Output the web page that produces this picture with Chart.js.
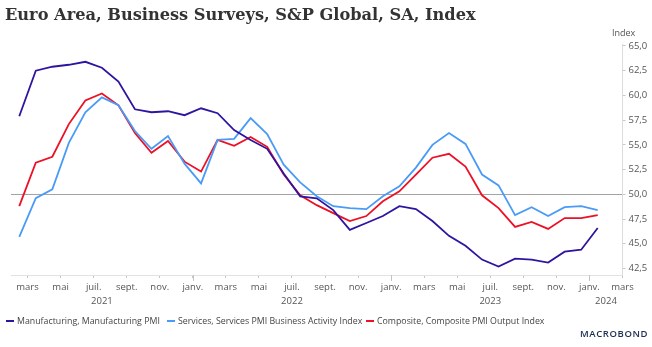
<!DOCTYPE html>
<html>
<head>
<meta charset="utf-8">
<title>Euro Area PMI</title>
<script src="https://cdn.jsdelivr.net/npm/chart.js@4.4.1/dist/chart.umd.min.js"></script>
<style>
  html, body { margin: 0; padding: 0; background: #fff; }
  #wrap { position: relative; width: 652px; height: 347px; overflow: hidden; font-family: "Open Sans", sans-serif; }
  #title { position: absolute; left: 5px; top: 5px; font-family: "DejaVu Serif", serif; font-weight: bold; font-size: 16.2px; color: #333; white-space: nowrap; }
  #chart { position: absolute; left: 0; top: 0; }
  #unit { position: absolute; left: 612px; top: 26px; font-size: 9px; color: #555; }
  .item { position: absolute; top: 315px; display: flex; align-items: center; font-size: 8.8px; color: #444; white-space: nowrap; }
  .swatch { width: 8px; height: 2px; margin-right: 3px; }
  #logo { position: absolute; left: 580px; top: 327px; font-size: 9.5px; font-weight: 600; letter-spacing: 0.6px; color: #1b2d50; }
</style>
</head>
<body>
<div id="wrap">
  <canvas id="chart" width="652" height="347"></canvas>
  <div id="title">Euro Area, Business Surveys, S&amp;P Global, SA, Index</div>
  <div id="unit">Index</div>
  <div id="legend"></div>
  <div id="logo">MACROBOND</div>
</div>
<script>
// Monthly survey readings, Feb 2021 - Jan 2024
const months = [
  '2021-02','2021-03','2021-04','2021-05','2021-06','2021-07','2021-08','2021-09','2021-10','2021-11','2021-12',
  '2022-01','2022-02','2022-03','2022-04','2022-05','2022-06','2022-07','2022-08','2022-09','2022-10','2022-11','2022-12',
  '2023-01','2023-02','2023-03','2023-04','2023-05','2023-06','2023-07','2023-08','2023-09','2023-10','2023-11','2023-12',
  '2024-01'
];
const manufacturing = [
  57.9, 62.5, 62.9, 63.1, 63.4, 62.8, 61.4, 58.6, 58.3, 58.4, 58.0,
  58.7, 58.2, 56.5, 55.5, 54.6, 52.1, 49.8, 49.6, 48.4, 46.4, 47.1, 47.8,
  48.8, 48.5, 47.3, 45.8, 44.8, 43.4, 42.7, 43.5, 43.4, 43.1, 44.2, 44.4,
  46.6
];
const services = [
  45.7, 49.6, 50.5, 55.2, 58.3, 59.8, 59.0, 56.4, 54.6, 55.9, 53.1,
  51.1, 55.5, 55.6, 57.7, 56.1, 53.0, 51.2, 49.8, 48.8, 48.6, 48.5, 49.8,
  50.8, 52.7, 55.0, 56.2, 55.1, 52.0, 50.9, 47.9, 48.7, 47.8, 48.7, 48.8,
  48.4
];
const composite = [
  48.8, 53.2, 53.8, 57.1, 59.5, 60.2, 59.0, 56.2, 54.2, 55.4, 53.3,
  52.3, 55.5, 54.9, 55.8, 54.8, 52.0, 49.9, 48.9, 48.1, 47.3, 47.8, 49.3,
  50.3, 52.0, 53.7, 54.1, 52.8, 49.9, 48.6, 46.7, 47.2, 46.5, 47.6, 47.6,
  47.9
];
const seriesNames = [
  'Manufacturing, Manufacturing PMI',
  'Services, Services PMI Business Activity Index',
  'Composite, Composite PMI Output Index'
];
const seriesColors = ['#2f14a0', '#4a9bf7', '#ec1125'];
const yTicks = [42.5, 45, 47.5, 50, 52.5, 55, 57.5, 60, 62.5, 65];
const monthNames = ['janv.', 'févr.', 'mars', 'avr.', 'mai', 'juin', 'juil.', 'août', 'sept.', 'oct.', 'nov.', 'déc.'];
const years = [2021, 2022, 2023, 2024];

const baseYear = 2021;
const xMin = 1;   // start of Feb 2021
const xMax = 38;  // start of Mar 2024

// month index counted from Jan 2021; points sit mid-month
function monthIndex(s) {
  const [y, m] = s.split('-').map(Number);
  return (y - baseYear) * 12 + (m - 1);
}
function toPoints(values) {
  return values.map((v, i) => ({ x: monthIndex(months[i]) + 0.5, y: v }));
}

// year captions under the month labels, plus longer ticks at year breaks
const yearAxisPlugin = {
  id: 'yearAxis',
  afterDraw(chart) {
    const x = chart.scales.x;
    const ctx = chart.ctx;
    const bottom = chart.chartArea.bottom;
    ctx.save();
    ctx.strokeStyle = '#c4c4c4';
    ctx.lineWidth = 1;
    years.forEach(yr => {
      const start = (yr - baseYear) * 12;
      if (start > xMin && start < xMax) {
        const px = Math.round(x.getPixelForValue(start)) + 0.5;
        ctx.beginPath();
        ctx.moveTo(px, bottom);
        ctx.lineTo(px, bottom + 6);
        ctx.stroke();
      }
    });
    ctx.fillStyle = '#555';
    ctx.font = '9.5px "Open Sans", sans-serif';
    ctx.textAlign = 'center';
    ctx.textBaseline = 'middle';
    years.forEach(yr => {
      const a = Math.max(xMin, (yr - baseYear) * 12);
      const b = Math.min(xMax, (yr - baseYear + 1) * 12);
      ctx.fillText(String(yr), x.getPixelForValue((a + b) / 2), bottom + 26);
    });
    ctx.restore();
  }
};

const datasets = [manufacturing, services, composite].map((vals, i) => ({
  label: seriesNames[i],
  data: toPoints(vals),
  borderColor: seriesColors[i],
  backgroundColor: seriesColors[i],
  borderWidth: 1.8,
  pointRadius: 0,
  tension: 0,
  fill: false
}));

const tickFont = { family: '"Open Sans", sans-serif', size: 9.5 };

new Chart(document.getElementById('chart'), {
  type: 'line',
  data: { datasets },
  options: {
    responsive: false,
    animation: false,
    layout: { padding: { left: 11, top: 44, right: 0, bottom: 0 } },
    plugins: { legend: { display: false }, tooltip: { enabled: false } },
    scales: {
      x: {
        type: 'linear',
        min: xMin,
        max: xMax,
        afterBuildTicks(scale) {
          const t = [];
          for (let v = 2; v <= xMax; v += 2) t.push({ value: v });
          scale.ticks = t;
        },
        afterFit(scale) { scale.height = 72; },
        ticks: {
          autoSkip: false,
          maxRotation: 0,
          padding: 4,
          color: '#555',
          font: tickFont,
          callback: v => monthNames[((v % 12) + 12) % 12]
        },
        grid: { drawOnChartArea: false, drawTicks: true, tickLength: 3, tickColor: '#c4c4c4' },
        border: { color: '#e2e2e2' }
      },
      y: {
        position: 'right',
        min: 41.84,
        max: 65.2,
        afterBuildTicks(scale) { scale.ticks = yTicks.map(v => ({ value: v })); },
        afterFit(scale) { scale.width = 29.5; },
        ticks: {
          padding: 3,
          color: '#555',
          font: tickFont,
          callback: v => v.toFixed(1).replace('.', ',')
        },
        grid: {
          color: c => (c.tick && c.tick.value === 50 ? '#a3a3a3' : 'rgba(0,0,0,0)'),
          lineWidth: 1,
          drawTicks: true,
          tickLength: 3,
          tickColor: '#c8c8c8'
        },
        border: { color: '#dcdcdc' }
      }
    }
  },
  plugins: [yearAxisPlugin]
});

// legend row under the axis
const legendLeft = [6, 167, 366];
const legendBox = document.getElementById('legend');
seriesNames.forEach((name, i) => {
  const item = document.createElement('div');
  item.className = 'item';
  item.style.left = legendLeft[i] + 'px';
  const sw = document.createElement('span');
  sw.className = 'swatch';
  sw.style.background = seriesColors[i];
  const txt = document.createElement('span');
  txt.textContent = name;
  item.appendChild(sw);
  item.appendChild(txt);
  legendBox.appendChild(item);
});
</script>
</body>
</html>
